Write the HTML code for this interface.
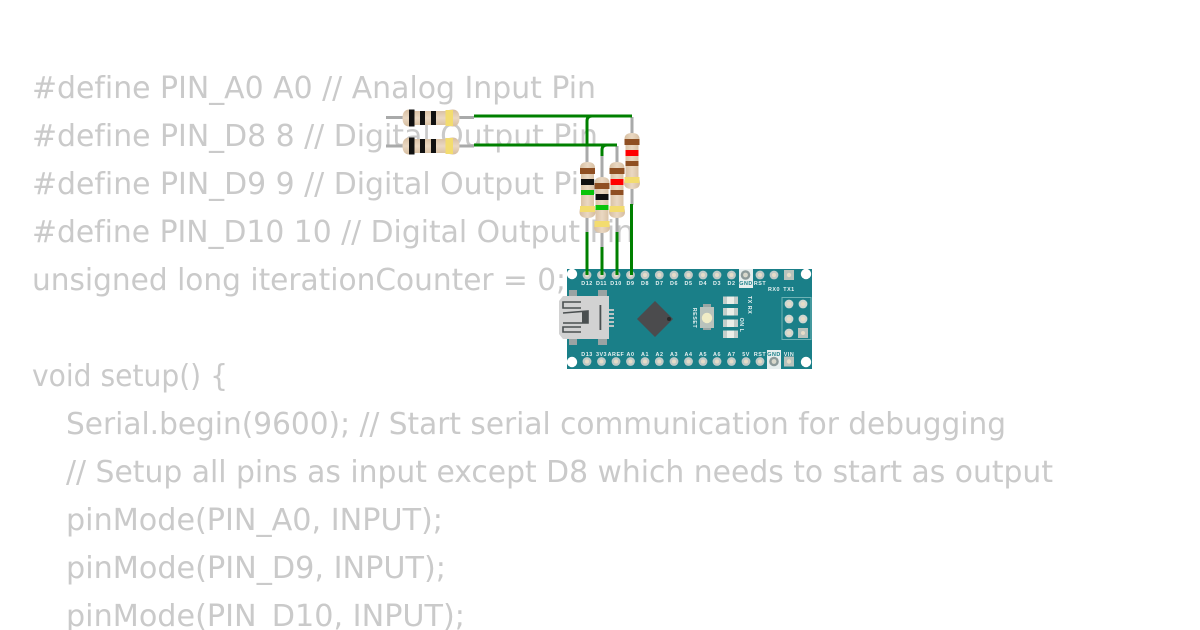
<!DOCTYPE html>
<html><head><meta charset="utf-8"><style>
html,body{margin:0;padding:0;background:#fff;width:1200px;height:630px;overflow:hidden}
svg{display:block}
.c{font-family:"DejaVu Sans","Liberation Sans",sans-serif;font-size:30.5px;fill:#cacaca;font-variant-ligatures:none}
.l{font-family:"Liberation Sans",sans-serif;font-size:5.4px;font-weight:bold;fill:#e8f2f2;text-anchor:middle;letter-spacing:.5px}
</style></head><body>
<svg width="1200" height="630" viewBox="0 0 1200 630" xmlns="http://www.w3.org/2000/svg">
<defs>
<linearGradient id="bv" x1="0" x2="1" y1="0" y2="0"><stop offset="0" stop-color="#d6bd9f"/><stop offset=".5" stop-color="#ead8c2"/><stop offset="1" stop-color="#d6bd9f"/></linearGradient>
<linearGradient id="bh" x1="0" x2="0" y1="0" y2="1"><stop offset="0" stop-color="#d6bd9f"/><stop offset=".5" stop-color="#ead8c2"/><stop offset="1" stop-color="#d6bd9f"/></linearGradient>
</defs>
<g class="c">
<text class="c" x="32" y="98" textLength="564" lengthAdjust="spacingAndGlyphs">#define PIN_A0 A0 // Analog Input Pin</text>
<text class="c" x="32" y="146" textLength="566" lengthAdjust="spacingAndGlyphs">#define PIN_D8 8 // Digital Output Pin</text>
<text class="c" x="32" y="194" textLength="566" lengthAdjust="spacingAndGlyphs">#define PIN_D9 9 // Digital Output Pin</text>
<text class="c" x="32" y="242" textLength="602" lengthAdjust="spacingAndGlyphs">#define PIN_D10 10 // Digital Output Pin</text>
<text class="c" x="32" y="290" textLength="534" lengthAdjust="spacingAndGlyphs">unsigned long iterationCounter = 0;</text>
<text class="c" x="32" y="386" textLength="196" lengthAdjust="spacingAndGlyphs">void setup() {</text>
<text class="c" x="66" y="434" textLength="940" lengthAdjust="spacingAndGlyphs">Serial.begin(9600); // Start serial communication for debugging</text>
<text class="c" x="66" y="482" textLength="987" lengthAdjust="spacingAndGlyphs">// Setup all pins as input except D8 which needs to start as output</text>
<text class="c" x="66" y="530" textLength="377" lengthAdjust="spacingAndGlyphs">pinMode(PIN_A0, INPUT);</text>
<text class="c" x="66" y="578" textLength="380" lengthAdjust="spacingAndGlyphs">pinMode(PIN_D9, INPUT);</text>
<text class="c" x="66" y="626" textLength="399" lengthAdjust="spacingAndGlyphs">pinMode(PIN_D10, INPUT);</text>
</g>

<!-- board -->
<rect x="567" y="269" width="245" height="100" fill="#1a7f88"/>
<circle cx="572" cy="274" r="5.2" fill="#fff"/><circle cx="572" cy="362" r="5.2" fill="#fff"/>
<circle cx="806" cy="274" r="5.2" fill="#fff"/><circle cx="806" cy="362" r="5.2" fill="#fff"/>
<rect x="739" y="269" width="14" height="19" fill="#e6eeee"/>
<rect x="767" y="350" width="14" height="19" fill="#e6eeee"/>

<g fill="#bfc9c6" stroke="none">
<circle cx="587" cy="275" r="4.4"/><circle cx="601.5" cy="275" r="4.4"/><circle cx="616" cy="275" r="4.4"/><circle cx="630.5" cy="275" r="4.4"/><circle cx="645" cy="275" r="4.4"/><circle cx="659.3" cy="275" r="4.4"/><circle cx="674" cy="275" r="4.4"/><circle cx="688.5" cy="275" r="4.4"/><circle cx="703" cy="275" r="4.4"/><circle cx="717" cy="275" r="4.4"/><circle cx="731.5" cy="275" r="4.4"/><circle cx="760" cy="275" r="4.4"/><circle cx="774" cy="275" r="4.4"/>
<circle cx="587" cy="361.5" r="4.4"/><circle cx="601.5" cy="361.5" r="4.4"/><circle cx="616" cy="361.5" r="4.4"/><circle cx="630.5" cy="361.5" r="4.4"/><circle cx="645" cy="361.5" r="4.4"/><circle cx="659.3" cy="361.5" r="4.4"/><circle cx="674" cy="361.5" r="4.4"/><circle cx="688.5" cy="361.5" r="4.4"/><circle cx="703" cy="361.5" r="4.4"/><circle cx="717" cy="361.5" r="4.4"/><circle cx="731.5" cy="361.5" r="4.4"/><circle cx="746" cy="361.5" r="4.4"/><circle cx="760" cy="361.5" r="4.4"/>
</g>
<g fill="#e6dcc8">
<circle cx="587" cy="275" r="2"/><circle cx="601.5" cy="275" r="2"/><circle cx="616" cy="275" r="2"/><circle cx="630.5" cy="275" r="2"/><circle cx="645" cy="275" r="2"/><circle cx="659.3" cy="275" r="2"/><circle cx="674" cy="275" r="2"/><circle cx="688.5" cy="275" r="2"/><circle cx="703" cy="275" r="2"/><circle cx="717" cy="275" r="2"/><circle cx="731.5" cy="275" r="2"/><circle cx="760" cy="275" r="2"/><circle cx="774" cy="275" r="2"/>
<circle cx="587" cy="361.5" r="2"/><circle cx="601.5" cy="361.5" r="2"/><circle cx="616" cy="361.5" r="2"/><circle cx="630.5" cy="361.5" r="2"/><circle cx="645" cy="361.5" r="2"/><circle cx="659.3" cy="361.5" r="2"/><circle cx="674" cy="361.5" r="2"/><circle cx="688.5" cy="361.5" r="2"/><circle cx="703" cy="361.5" r="2"/><circle cx="717" cy="361.5" r="2"/><circle cx="731.5" cy="361.5" r="2"/><circle cx="746" cy="361.5" r="2"/><circle cx="760" cy="361.5" r="2"/>
</g>
<circle cx="745.5" cy="275" r="4.8" fill="#8c9a9a"/><circle cx="745.5" cy="275" r="2.4" fill="#d8d8cc"/>
<circle cx="774" cy="361.5" r="4.8" fill="#8c9a9a"/><circle cx="774" cy="361.5" r="2.4" fill="#d8d8cc"/>
<rect x="784" y="270" width="10" height="10" fill="#b9c2bc"/><circle cx="789" cy="275" r="2.2" fill="#e6dcc8"/>
<rect x="784" y="356.5" width="10" height="10" fill="#b9c2bc"/><circle cx="789" cy="361.5" r="2.2" fill="#e6dcc8"/>

<!-- labels -->
<text class="l" x="587" y="285">D12</text><text class="l" x="601.5" y="285">D11</text><text class="l" x="616" y="285">D10</text><text class="l" x="630.5" y="285">D9</text><text class="l" x="645" y="285">D8</text><text class="l" x="659.5" y="285">D7</text><text class="l" x="674" y="285">D6</text><text class="l" x="688.5" y="285">D5</text><text class="l" x="703" y="285">D4</text><text class="l" x="717" y="285">D3</text><text class="l" x="731.5" y="285">D2</text>
<text class="l" x="746" y="285" style="fill:#1a7f88">GND</text><text class="l" x="760" y="285">RST</text>
<text class="l" x="774" y="291">RX0</text><text class="l" x="789" y="291">TX1</text>
<text class="l" x="587" y="356">D13</text><text class="l" x="601.5" y="356">3V3</text><text class="l" x="616" y="356">AREF</text><text class="l" x="630.5" y="356">A0</text><text class="l" x="645" y="356">A1</text><text class="l" x="659.5" y="356">A2</text><text class="l" x="674" y="356">A3</text><text class="l" x="688.5" y="356">A4</text><text class="l" x="703" y="356">A5</text><text class="l" x="717" y="356">A6</text><text class="l" x="731.5" y="356">A7</text><text class="l" x="746" y="356">5V</text><text class="l" x="760" y="356">RST</text><text class="l" x="774" y="356" style="fill:#1a7f88">GND</text><text class="l" x="789" y="356">VIN</text>
<text class="l" transform="translate(693,318) rotate(90)">RESET</text>
<text class="l" transform="translate(748,305) rotate(90)">TX RX</text>
<text class="l" transform="translate(740,325) rotate(90)">ON L</text>

<!-- USB -->
<g fill="#9aa3a3"><rect x="569" y="290" width="8" height="6"/><rect x="598" y="290" width="9" height="6"/><rect x="569" y="339" width="8" height="6"/><rect x="598" y="339" width="9" height="6"/></g>
<g fill="#bcc4c4"><rect x="609" y="309" width="5" height="2"/><rect x="609" y="313" width="5" height="2"/><rect x="609" y="317" width="5" height="2"/><rect x="609" y="321" width="5" height="2"/><rect x="609" y="325" width="5" height="2"/></g>
<path d="M559 301 L563 296 H609 V339 H563 L559 334 Z" fill="#d2d2d2"/>
<g fill="none" stroke="#4a4f50" stroke-width="1.6">
<path d="M581 302 H563 V308 H581"/><path d="M581 332 H563 V327 H581"/>
<path d="M563 313 L588 311 V323 H563"/>
</g>
<path d="M582 312 L588 311 V323 H582 Z" fill="#4a4f50"/>
<rect x="599.5" y="305" width="1.8" height="25" fill="#4a4f50"/>

<!-- IC -->
<path d="M655 301 L673 319 L655 337 L637 319 Z" fill="#4b4b4d"/>
<circle cx="669" cy="319" r="2" fill="#2a2a2a"/>

<!-- reset -->
<rect x="703" y="304" width="8" height="26" fill="#9aa6a4"/>
<rect x="700" y="307" width="14" height="21" fill="#b9c2bc"/>
<circle cx="707" cy="318" r="5.2" fill="#f0ecc6"/>

<!-- LEDs -->
<g fill="#c4cdca">
<rect x="723" y="296.500" width="15" height="7.500"/><rect x="723" y="308" width="15" height="7.500"/><rect x="723" y="319.500" width="15" height="7.500"/><rect x="723" y="330.500" width="15" height="7.500"/>
</g>
<g fill="#eceee8">
<rect x="727" y="296.500" width="7" height="7.500"/><rect x="727" y="308" width="7" height="7.500"/><rect x="727" y="319.500" width="7" height="7.500"/><rect x="727" y="330.500" width="7" height="7.500"/>
</g>

<!-- ICSP -->
<rect x="782" y="297.500" width="29" height="42" fill="none" stroke="#6fb3b5" stroke-width="1"/>
<g fill="#d0d6d0">
<circle cx="789" cy="304" r="4.4"/><circle cx="803" cy="304" r="4.4"/><circle cx="789" cy="319" r="4.4"/><circle cx="803" cy="319" r="4.4"/><circle cx="789" cy="333" r="4.4"/>
<rect x="798" y="328" width="10" height="10" fill="#b9c2bc"/>
</g>
<g fill="#e6dcc8"><circle cx="789" cy="304" r="2"/><circle cx="803" cy="304" r="2"/><circle cx="789" cy="319" r="2"/><circle cx="803" cy="319" r="2"/><circle cx="789" cy="333" r="2"/><circle cx="803" cy="333" r="2"/></g>

<!-- grey leads -->
<g stroke="#a9aaaa" stroke-width="3" fill="none">
<path d="M386 117.500 H404"/><path d="M458 117.500 H474"/>
<path d="M386 146 H404"/><path d="M458 146 H474"/>
<path d="M587 140 V163"/><path d="M587 217 V233"/>
<path d="M602 150 V178"/><path d="M602 232 V248"/>
<path d="M617 146 V163"/><path d="M617 217 V233"/>
<path d="M632 117 V134"/><path d="M632 189 V205"/>
</g>

<!-- wires -->
<g stroke="#008000" stroke-width="3" fill="none">
<path d="M474 116 H632"/>
<path d="M587 146 V121 Q587 116 592 116"/>
<path d="M474 145 H617"/>
<path d="M602 156 V150 Q602 145 607 145"/>
<path d="M587 232 V275"/><path d="M602 247 V275"/><path d="M617 232 V275"/><path d="M631.500 204 V275"/>
</g>

<!-- horizontal resistors -->
<g transform="translate(402.500,109.500)">
<path d="M0 8.500 Q0 0 7 0 Q10 0 13 1.500 H44 Q47 0 50 0 Q57 0 57 8.500 Q57 17 50 17 Q47 17 44 15.500 H13 Q10 17 7 17 Q0 17 0 8.500 Z" fill="url(#bh)"/>
<rect x="6.500" y="0" width="5.500" height="17" fill="#111"/><rect x="17.500" y="1.500" width="5" height="14" fill="#111"/><rect x="28.500" y="1.500" width="5" height="14" fill="#111"/><rect x="43" y="0.500" width="7.500" height="16" fill="#f3dc6f"/>
</g>
<g transform="translate(402.500,137.500)">
<path d="M0 8.500 Q0 0 7 0 Q10 0 13 1.500 H44 Q47 0 50 0 Q57 0 57 8.500 Q57 17 50 17 Q47 17 44 15.500 H13 Q10 17 7 17 Q0 17 0 8.500 Z" fill="url(#bh)"/>
<rect x="6.500" y="0" width="5.500" height="17" fill="#111"/><rect x="17.500" y="1.500" width="5" height="14" fill="#111"/><rect x="28.500" y="1.500" width="5" height="14" fill="#111"/><rect x="43" y="0.500" width="7.500" height="16" fill="#f3dc6f"/>
</g>

<!-- vertical resistors -->
<g transform="translate(579.500,162)">
<path d="M8 0 Q15.500 0 15.500 6 Q15.500 10 14.500 12 V44 Q16 47 16 50 Q16 56 8 56 Q0 56 0 50 Q0 47 1.500 44 V12 Q.5 10 .5 6 Q.5 0 8 0 Z" fill="url(#bv)"/>
<rect x=".5" y="6" width="15" height="6" fill="#8f4f22"/><rect x="1.500" y="17" width="13" height="6" fill="#111"/><rect x="1.500" y="28" width="13" height="5" fill="#0bc40b"/><rect x="0.500" y="44" width="15" height="6" fill="#f3dc6f"/>
</g>
<g transform="translate(609,162)">
<path d="M8 0 Q15.500 0 15.500 6 Q15.500 10 14.500 12 V44 Q16 47 16 50 Q16 56 8 56 Q0 56 0 50 Q0 47 1.500 44 V12 Q.5 10 .5 6 Q.5 0 8 0 Z" fill="url(#bv)"/>
<rect x=".5" y="6" width="15" height="6" fill="#8f4f22"/><rect x="1.500" y="17" width="13" height="6" fill="#f00"/><rect x="1.500" y="28" width="13" height="5" fill="#8f4f22"/><rect x="0.500" y="44" width="15" height="6" fill="#f3dc6f"/>
</g>
<g transform="translate(624,133)">
<path d="M8 0 Q15.500 0 15.500 6 Q15.500 10 14.500 12 V44 Q16 47 16 50 Q16 56 8 56 Q0 56 0 50 Q0 47 1.500 44 V12 Q.5 10 .5 6 Q.5 0 8 0 Z" fill="url(#bv)"/>
<rect x=".5" y="6" width="15" height="6" fill="#8f4f22"/><rect x="1.500" y="17" width="13" height="6" fill="#f00"/><rect x="1.500" y="28" width="13" height="5" fill="#8f4f22"/><rect x="0.500" y="44" width="15" height="6" fill="#f3dc6f"/>
</g>
<g transform="translate(594,177)">
<path d="M8 0 Q15.500 0 15.500 6 Q15.500 10 14.500 12 V44 Q16 47 16 50 Q16 56 8 56 Q0 56 0 50 Q0 47 1.500 44 V12 Q.5 10 .5 6 Q.5 0 8 0 Z" fill="url(#bv)"/>
<rect x=".5" y="6" width="15" height="6" fill="#8f4f22"/><rect x="1.500" y="17" width="13" height="6" fill="#111"/><rect x="1.500" y="28" width="13" height="5" fill="#0bc40b"/><rect x="0.500" y="44" width="15" height="6" fill="#f3dc6f"/>
</g>
</svg>
</body></html>
